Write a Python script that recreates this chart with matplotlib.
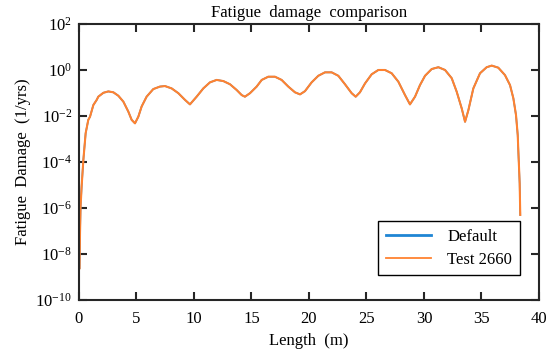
import numpy as np
import matplotlib
matplotlib.use("Agg")
import matplotlib.pyplot as plt
from matplotlib.ticker import FixedLocator, FuncFormatter

plt.rcParams['font.family'] = 'Liberation Serif'
plt.rcParams['mathtext.fontset'] = 'custom'
plt.rcParams['mathtext.rm'] = 'Liberation Serif'
plt.rcParams['mathtext.it'] = 'Liberation Serif:italic'

# positions along the structure (m)
length = [0.05, 0.09, 0.14, 0.23, 0.38, 0.58, 0.81, 0.96, 1.25, 1.54, 1.68,
          2.12, 2.55, 2.99, 3.42, 3.86, 4.29, 4.58, 4.87, 5.16, 5.45, 5.88,
          6.46, 7.04, 7.48, 8.06, 8.64, 9.22, 9.65, 10.23, 10.81, 11.39,
          11.97, 12.55, 13.13, 13.71, 14.15, 14.43, 14.87, 15.45, 15.89,
          16.46, 17.04, 17.62, 18.20, 18.78, 19.22, 19.65, 20.23, 20.81,
          21.39, 21.97, 22.55, 23.13, 23.71, 24.06, 24.43, 24.87, 25.45,
          26.03, 26.61, 27.19, 27.77, 28.35, 28.78, 29.22, 29.65, 30.09,
          30.67, 31.25, 31.83, 32.41, 32.84, 33.28, 33.57, 33.86, 34.29,
          34.87, 35.45, 35.89, 36.46, 37.04, 37.48, 37.77, 38.00, 38.15,
          38.20, 38.26, 38.32, 38.37]

# fatigue damage (1/yrs)
damage = [2.4e-9, 7.9e-8, 1.15e-6, 8.5e-6, 1.23e-4, 1.78e-3, 6.8e-3, 9.3e-3,
          0.030, 0.050, 0.069, 0.102, 0.117, 0.107, 0.076, 0.042, 0.0155,
          6.8e-3, 4.8e-3, 9.3e-3, 0.026, 0.069, 0.148, 0.19, 0.20, 0.158,
          0.098, 0.050, 0.032, 0.069, 0.158, 0.29, 0.37, 0.33, 0.24, 0.135,
          0.081, 0.069, 0.098, 0.19, 0.37, 0.51, 0.51, 0.37, 0.19, 0.107,
          0.087, 0.12, 0.29, 0.56, 0.79, 0.79, 0.56, 0.24, 0.098, 0.069,
          0.107, 0.26, 0.65, 1.0, 1.0, 0.72, 0.31, 0.081, 0.032, 0.069, 0.22,
          0.56, 1.10, 1.32, 1.0, 0.44, 0.115, 0.0214, 5.6e-3, 0.018, 0.158,
          0.72, 1.32, 1.55, 1.26, 0.60, 0.22, 0.059, 0.011, 1.48e-3, 3.3e-4,
          6.3e-5, 1.17e-5, 5.0e-7]

x_ticks = [0, 5, 10, 15, 20, 25, 30, 35, 40]
y_exps = [-10, -8, -6, -4, -2, 0, 2]

fig = plt.figure(figsize=(5.5, 3.57), dpi=100)
ax = fig.add_axes([0.1436, 0.1597, 0.8364, 0.7731])

ax.plot(length, damage, color='#1f85d4', lw=1.2, label='Default')
ax.plot(length, damage, color='#ff8230', lw=1.5, label='Test 2660')

ax.set_yscale('log')
ax.set_xlim(0, 40)
ax.set_ylim(1e-10, 1e2)
ax.xaxis.set_major_locator(FixedLocator(x_ticks))
ax.yaxis.set_major_locator(FixedLocator([10.0 ** e for e in y_exps]))
ax.yaxis.set_minor_locator(FixedLocator([]))
ax.yaxis.set_major_formatter(FuncFormatter(
    lambda v, p: r'$10^{%d}$' % int(round(np.log10(v)))))

ax.tick_params(direction='in', length=6, width=1.5, top=True, right=True,
               labelsize=12, colors='#262626', pad=8)
ax.tick_params(axis='x', labelcolor='black')
ax.tick_params(axis='y', labelcolor='black', pad=5)
for s in ax.spines.values():
    s.set_linewidth(1.5)
    s.set_color('#262626')

ax.set_title('Fatigue  damage  comparison', fontsize=12, pad=5)
ax.set_xlabel('Length  (m)', fontsize=12, labelpad=4)
ax.set_ylabel('Fatigue  Damage  (1/yrs)', fontsize=12, labelpad=3)

leg = ax.legend(loc='lower right', bbox_to_anchor=(0.958, 0.09), fontsize=12,
                fancybox=False, edgecolor='black', framealpha=1,
                handlelength=2.7, handletextpad=1.0, borderpad=0.45,
                labelspacing=0.4, borderaxespad=0)
leg_lines = leg.get_lines()
leg_lines[0].set_linewidth(2.0)
leg_lines[1].set_linewidth(1.3)
leg.get_frame().set_linewidth(1.0)

fig.savefig('out.png', dpi=100)
